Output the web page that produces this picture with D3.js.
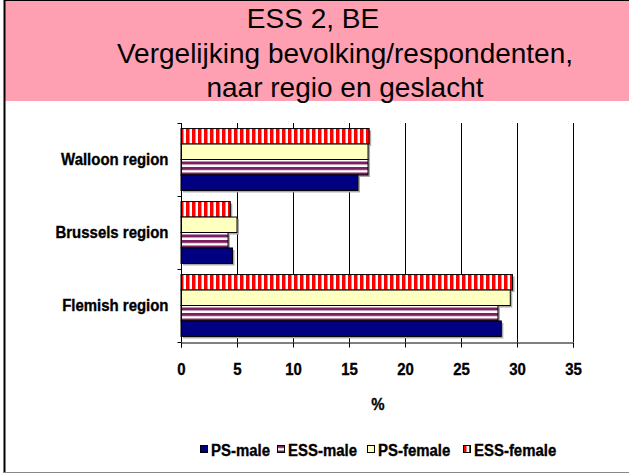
<!DOCTYPE html>
<html>
<head>
<meta charset="utf-8">
<script src="https://cdn.jsdelivr.net/npm/d3@7"></script>
<style>
  body { margin: 0; background: #fff; }
  text { font-family: "Liberation Sans", Arial, sans-serif; }
</style>
</head>
<body>
<svg id="chart"></svg>
<script>
const width = 629;
const height = 474;

const regions = ["Walloon region", "Brussels region", "Flemish region"];
const seriesNames = ["ESS-female", "PS-female", "ESS-male", "PS-male"];
const legendOrder = ["PS-male", "ESS-male", "PS-female", "ESS-female"];
// values per region, in seriesNames order
const walloonValues = [16.8, 16.7, 16.7, 15.8];
const brusselsValues = [4.4, 5.0, 4.2, 4.6];
const flemishValues = [29.6, 29.4, 28.3, 28.6];
const xTicks = [0, 5, 10, 15, 20, 25, 30, 35];
const titleLines = ["ESS 2, BE", "Vergelijking bevolking/respondenten,", "naar regio en geslacht"];

const valuesByRegion = [walloonValues, brusselsValues, flemishValues];

const fills = {
  "PS-male": "#000080",
  "ESS-male": "url(#essMale)",
  "PS-female": "#FFFFC0",
  "ESS-female": "url(#essFemale)"
};

const labelSize = 17;
const squeeze = 0.88;

// narrow heavy labels like the original, scaled around their anchor x
function narrow(sel) {
  sel.each(function() {
    let t = d3.select(this);
    let tx = +t.attr("x") || 0;
    t.attr("x", 0)
      .attr("transform", `translate(${tx},0) scale(${squeeze},1)`)
      .attr("font-size", labelSize)
      .attr("font-weight", "bold")
      .attr("fill", "#000")
      .attr("stroke", "#000")
      .attr("stroke-width", 0.35);
  });
}

let svg = d3.select("#chart").attr("width", width).attr("height", height);

let defs = svg.append("defs");
let pf = defs.append("pattern")
  .attr("id", "essFemale")
  .attr("patternUnits", "userSpaceOnUse")
  .attr("width", 6).attr("height", 6);
pf.append("rect").attr("width", 6).attr("height", 6).attr("fill", "#fff");
pf.append("rect").attr("width", 3.5).attr("height", 6).attr("fill", "#FF0000");

let pm = defs.append("pattern")
  .attr("id", "essMale")
  .attr("patternUnits", "userSpaceOnUse")
  .attr("width", 6).attr("height", 5.5);
pm.append("rect").attr("width", 6).attr("height", 5.5).attr("fill", "#fff");
pm.append("rect").attr("width", 6).attr("height", 3).attr("fill", "#7B1F5E");

// frame and title band
svg.append("rect")
  .attr("x", 5).attr("y", 1).attr("width", width - 5).attr("height", 100)
  .attr("fill", "#FFA0B2");
svg.append("line")
  .attr("x1", 4.5).attr("x2", 4.5).attr("y1", 0).attr("y2", 473)
  .attr("stroke", "#000").attr("stroke-width", 2);
svg.append("line")
  .attr("x1", 4).attr("x2", width).attr("y1", 0.5).attr("y2", 0.5)
  .attr("stroke", "#000").attr("stroke-width", 1);
svg.append("line")
  .attr("x1", 4).attr("x2", width).attr("y1", 472.5).attr("y2", 472.5)
  .attr("stroke", "#888").attr("stroke-width", 1);

svg.selectAll(".title")
  .data(titleLines)
  .enter()
  .append("text")
  .attr("x", (d, i) => i === 0 ? 313 : 345)
  .attr("y", (d, i) => 28 + i * 34.5)
  .attr("text-anchor", "middle")
  .attr("font-size", 28)
  .text(d => d);

// plot
const plotLeft = 181, plotRight = 573, plotTop = 123, plotBottom = 342;

let x = d3.scaleLinear().domain([0, 35]).range([plotLeft, plotRight]);
let y = d3.scaleBand().domain(regions).range([plotTop, plotBottom]);
let ySeries = d3.scaleBand().domain(seriesNames)
  .range([0, y.bandwidth()]).paddingOuter(0.36);

// vertical grid lines
svg.selectAll(".grid")
  .data(xTicks.slice(1))
  .enter()
  .append("line")
  .attr("x1", d => x(d) + 0.5).attr("x2", d => x(d) + 0.5)
  .attr("y1", plotTop).attr("y2", plotBottom)
  .attr("stroke", "#000").attr("stroke-width", 1);

let groups = svg.selectAll(".region")
  .data(regions)
  .enter()
  .append("g")
  .attr("transform", d => `translate(0,${y(d)})`);

groups.each(function(region, ri) {
  let g = d3.select(this);
  let vals = seriesNames.map((s, j) => ({ s: s, v: valuesByRegion[ri][j] }));
  g.selectAll(".shadow")
    .data(vals)
    .enter()
    .append("rect")
    .attr("x", x(0) + 2)
    .attr("y", d => ySeries(d.s) + 2)
    .attr("width", d => x(d.v) - x(0))
    .attr("height", ySeries.bandwidth())
    .attr("fill", "#aaa");
  g.selectAll(".bar")
    .data(vals)
    .enter()
    .append("rect")
    .attr("x", x(0))
    .attr("y", d => ySeries(d.s))
    .attr("width", d => x(d.v) - x(0))
    .attr("height", ySeries.bandwidth())
    .attr("fill", d => fills[d.s])
    .attr("stroke", "#000")
    .attr("stroke-width", 1);
});

// y axis
let yAxis = svg.append("g")
  .attr("transform", `translate(${plotLeft + 0.5},0)`)
  .call(d3.axisLeft(y).tickSize(0).tickPadding(13));
yAxis.select(".domain").remove();
yAxis.append("line")
  .attr("y1", plotTop).attr("y2", plotBottom).attr("stroke", "#000");
yAxis.selectAll(".bnd")
  .data([plotTop, plotTop + y.bandwidth(), plotTop + 2 * y.bandwidth(), plotBottom])
  .enter()
  .append("line")
  .attr("x1", -4).attr("x2", 0)
  .attr("y1", d => d + 0.5).attr("y2", d => d + 0.5)
  .attr("stroke", "#000");
yAxis.selectAll(".tick text").call(narrow);

// x axis
let xAxis = svg.append("g")
  .attr("transform", `translate(0,${plotBottom + 0.5})`)
  .call(d3.axisBottom(x).tickValues(xTicks).tickSize(5).tickPadding(15));
xAxis.selectAll(".tick text").call(narrow);
xAxis.selectAll("line,path").attr("stroke", "#000");

svg.append("text")
  .attr("x", 378).attr("y", 410)
  .attr("text-anchor", "middle")
  .text("%")
  .call(narrow);

// legend
const legendX = [200, 277, 367, 463];
let legend = svg.selectAll(".legend")
  .data(legendOrder)
  .enter()
  .append("g")
  .attr("transform", (d, i) => `translate(${legendX[i]},445)`);
legend.append("rect")
  .attr("x", 0.5).attr("y", 0.5).attr("width", 7).attr("height", 7)
  .attr("fill", d => fills[d])
  .attr("stroke", "#000");
legend.append("text")
  .attr("x", 11).attr("y", 10.5)
  .text(d => d)
  .call(narrow);
</script>
</body>
</html>
